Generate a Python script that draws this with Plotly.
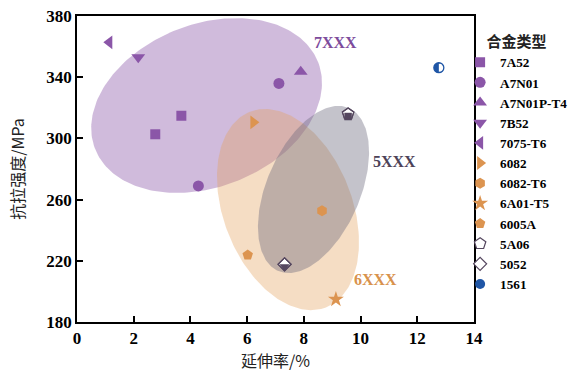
import numpy as np
import plotly.graph_objects as go

# ---- measured data: elongation (%) and tensile strength (MPa) ----
x_7A52 = [2.76, 3.68]
y_7A52 = [302.7, 314.8]
x_A7N01 = [4.28, 7.12]
y_A7N01 = [268.9, 335.9]
x_A7N01P = [7.89]
y_A7N01P = [343.6]
x_7B52 = [2.16]
y_7B52 = [353.0]
x_7075 = [1.14]
y_7075 = [362.8]
x_6082 = [6.22]
y_6082 = [310.5]
x_6082T6 = [8.64]
y_6082T6 = [252.7]
x_6A01 = [9.13]
y_6A01 = [194.8]
x_6005A = [6.02]
y_6005A = [223.8]
x_5A06 = [9.56]
y_5A06 = [316.0]
x_5052 = [7.32]
y_5052 = [217.7]
x_1561 = [12.76]
y_1561 = [346.2]

# ---- alloy-series envelopes (centre, semi-axes in % units, tilt in degrees) ----
group_names = ["7XXX", "6XXX", "5XXX"]
group_cx = [4.57, 7.44, 8.34]
group_cy = [321.5, 253.5, 266.6]
group_a = [4.22, 3.70, 3.13]
group_b = [2.87, 2.27, 1.65]
group_tilt = [21.2, -68.8, 66.6]
group_fill = ["rgba(150,105,178,0.45)", "rgba(228,162,92,0.36)", "rgba(108,104,124,0.40)"]
group_label_x = [9.13, 10.52, 11.2]
group_label_y = [363.0, 208.0, 284.6]
group_label_color = ["#7d4b9c", "#d8924c", "#4d4258"]

x_ticks = list(range(0, 15, 2))
y_ticks = list(range(180, 381, 40))

PURPLE = "#8b56a8"
ORANGE = "#dc9450"
DARK = "#55475f"
BLUE = "#1f56a6"
SERIF = "Liberation Serif, Times New Roman, serif"

# MPa that share the on-screen length of 1 % elongation
MPA_PER_PCT = 18.54


def ellipse(cx, cy, a, b, tilt):
    t = np.linspace(0, 2 * np.pi, 240)
    th = np.radians(tilt)
    u, v = a * np.cos(t), b * np.sin(t)
    dx = u * np.cos(th) - v * np.sin(th)
    dy = u * np.sin(th) + v * np.cos(th)
    return cx + dx, cy + dy * MPA_PER_PCT


fig = go.Figure()

for name, cx, cy, a, b, tilt, fc in zip(group_names, group_cx, group_cy, group_a,
                                         group_b, group_tilt, group_fill):
    ex, ey = ellipse(cx, cy, a, b, tilt)
    fig.add_trace(go.Scatter(x=ex, y=ey, mode="lines", fill="toself", fillcolor=fc,
                             line=dict(width=0), hoverinfo="skip", showlegend=False))


def pts(x, y, name, symbol, color, size, show=True, line=None, **mk):
    marker = dict(symbol=symbol, color=color, size=size, line=line or dict(width=0))
    marker.update(mk)
    fig.add_trace(go.Scatter(x=x, y=y, mode="markers", name=name, marker=marker,
                             showlegend=show, legendgroup=name))


pts(x_7A52, y_7A52, "7A52", "square", PURPLE, 10)
pts(x_A7N01, y_A7N01, "A7N01", "circle", PURPLE, 11)
pts(x_A7N01P, y_A7N01P, "A7N01P-T4", "triangle-up", PURPLE, 12)
pts(x_7B52, y_7B52, "7B52", "triangle-down", PURPLE, 12)
pts(x_7075, y_7075, "7075-T6", "triangle-left", PURPLE, 12)
pts(x_6082, y_6082, "6082", "triangle-right", ORANGE, 12)
pts(x_6082T6, y_6082T6, "6082-T6", "hexagon", ORANGE, 11)
pts(x_6A01, y_6A01, "6A01-T5", "star", ORANGE, 12)
pts(x_6005A, y_6005A, "6005A", "pentagon", ORANGE, 11)

# half-filled symbols: white body, dark lower half, outline on top
pts(x_5A06, y_5A06, "5A06", "pentagon", "white", 12, line=dict(width=1.2, color=DARK))
pts(x_5A06, y_5A06, "5A06", "square", DARK, 7.5, show=False, angle=0, standoff=2.6)
pts(x_5A06, y_5A06, "5A06", "pentagon-open", DARK, 12, show=False, line=dict(width=1.2, color=DARK))

pts(x_5052, y_5052, "5052", "diamond", "white", 10, line=dict(width=1.2, color=DARK))
pts(x_5052, y_5052, "5052", "triangle-down", DARK, 9, show=False, angle=0, standoff=2.3)
pts(x_5052, y_5052, "5052", "diamond-open", DARK, 10, show=False, line=dict(width=1.2, color=DARK))

pts(x_1561, y_1561, "1561", "circle", BLUE, 10)
pts(x_1561, y_1561, "1561", "square", "white", 8, show=False, angle=-90, standoff=4)
pts(x_1561, y_1561, "1561", "circle-open", BLUE, 10, show=False, line=dict(width=1.3, color=BLUE))

for name, lx, ly, col in zip(group_names, group_label_x, group_label_y, group_label_color):
    fig.add_annotation(x=lx, y=ly, text=f"<b>{name}</b>", showarrow=False,
                       font=dict(family=SERIF, size=16, color=col))

axis_common = dict(showline=True, linecolor="black", linewidth=1.6, mirror=True,
                   ticks="inside", ticklen=6, tickwidth=1.6, tickcolor="black",
                   showgrid=False, zeroline=False,
                   tickfont=dict(family=SERIF, size=17, color="black"))

fig.update_xaxes(range=[0, 14], tickvals=x_ticks, ticktext=[f"<b>{v}</b>" for v in x_ticks],
                 title=dict(text="延伸率/%", font=dict(family="Noto Sans CJK SC", size=16, color="#222"),
                            standoff=6),
                 **axis_common)
fig.update_yaxes(range=[180, 380], tickvals=y_ticks, ticktext=[f"<b>{v}</b>" for v in y_ticks],
                 title=dict(text="抗拉强度/MPa", font=dict(family="Noto Sans CJK SC", size=16, color="#222"),
                            standoff=18),
                 **axis_common)

fig.update_layout(
    width=581, height=374,
    margin=dict(l=77, r=107, t=16, b=52, autoexpand=False),
    plot_bgcolor="white", paper_bgcolor="white",
    legend=dict(x=0.965, y=0.962, xanchor="left", yanchor="top",
                title=dict(text="合金类型", side="top center",
                           font=dict(family="Noto Sans CJK SC", size=15, color="#222")),
                font=dict(family=SERIF, size=13.2, color="black", weight="bold"),
                itemwidth=30, tracegroupgap=0, bgcolor="rgba(0,0,0,0)"),
)

fig.write_html("out.html")
